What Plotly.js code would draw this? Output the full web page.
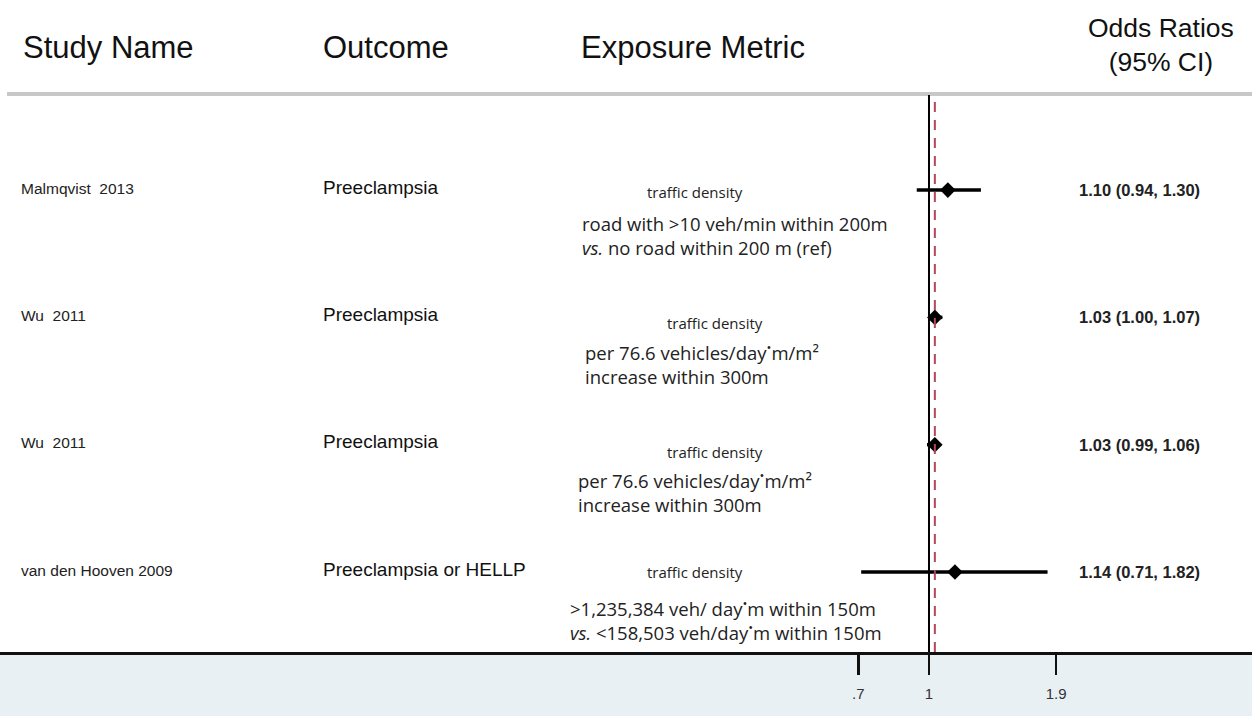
<!DOCTYPE html>
<html>
<head>
<meta charset="utf-8">
<script src="https://cdn.plot.ly/plotly-3.0.1.min.js"></script>
<style>html,body{margin:0;padding:0;background:#fff;}#chart{width:1252px;height:716px;}</style>
</head>
<body>
<div id="chart"></div>
<script>
// ---- data ----
const studyNames = ['Malmqvist  2013', 'Wu  2011', 'Wu  2011', 'van den Hooven 2009'];
const outcomes = ['Preeclampsia', 'Preeclampsia', 'Preeclampsia', 'Preeclampsia or HELLP'];
const exposureMetric = ['traffic density', 'traffic density', 'traffic density', 'traffic density'];
const exposureLine1 = ['road with >10 veh/min within 200m',
                       'per 76.6 vehicles/day<sup>•</sup>m/m²',
                       'per 76.6 vehicles/day<sup>•</sup>m/m²',
                       '>1,235,384 veh/ day<sup>•</sup>m within 150m'];
const exposureLine2 = ['<i>vs.</i> no road within 200 m (ref)',
                       'increase within 300m',
                       'increase within 300m',
                       '<i>vs.</i> <158,503 veh/day<sup>•</sup>m within 150m'];
const oddsRatio = [1.10, 1.03, 1.03, 1.14];
const ciLower = [0.94, 1.00, 0.99, 0.71];
const ciUpper = [1.30, 1.07, 1.06, 1.82];
const pooledOR = 1.03;
const tickValues = [0.7, 1, 1.9];
const tickLabels = ['.7', '1', '1.9'];
const headers = ['Study Name', 'Outcome', 'Exposure Metric', 'Odds Ratios<br>(95% CI)'];

// ---- layout helpers (pixel placement, not data) ----
const W = 1252, H = 716;
const metricX = [695, 715, 715, 695];        // centre x of "traffic density"
const metricShift = [-2, -6, -7, 0];          // px, + = up
const detailX = [580, 583, 576, 568];
const detailShift = [-45, -46, -47, -47];

const n = oddsRatio.length;
const yRow = oddsRatio.map((_, i) => n - i);
const orText = oddsRatio.map((v, i) => v.toFixed(2) + ' (' + ciLower[i].toFixed(2) + ', ' + ciUpper[i].toFixed(2) + ')');

const trace = {
  type: 'scatter', mode: 'markers',
  x: oddsRatio, y: yRow,
  marker: {symbol: 'diamond', size: 12, color: '#000'},
  error_x: {type: 'data', symmetric: false,
            array: oddsRatio.map((v, i) => ciUpper[i] - v),
            arrayminus: oddsRatio.map((v, i) => v - ciLower[i]),
            thickness: 3.5, width: 0, color: '#000'},
  hoverinfo: 'skip', showlegend: false
};

const px = v => v / W;
const sans = 'Liberation Sans, Arial, sans-serif';
const ann = [];
const hdrFont = {family: sans, size: 31, color: '#111'};
const hdrY = 1 + (95 - 47) / 557;
ann.push({xref: 'paper', yref: 'paper', x: px(21), y: hdrY, xanchor: 'left', yanchor: 'middle', text: headers[0], showarrow: false, font: hdrFont});
ann.push({xref: 'paper', yref: 'paper', x: px(321), y: hdrY, xanchor: 'left', yanchor: 'middle', text: headers[1], showarrow: false, font: hdrFont});
ann.push({xref: 'paper', yref: 'paper', x: px(579), y: hdrY, xanchor: 'left', yanchor: 'middle', text: headers[2], showarrow: false, font: hdrFont});
ann.push({xref: 'paper', yref: 'paper', x: px(1161), y: 1 + (95 - 45) / 557, xanchor: 'center', yanchor: 'middle', text: headers[3], showarrow: false,
          font: {family: sans, size: 26.5, color: '#111'}});

for (let i = 0; i < n; i++) {
  ann.push({xref: 'paper', yref: 'y', x: px(19), y: yRow[i], yshift: 2, xanchor: 'left', yanchor: 'middle',
            text: studyNames[i], showarrow: false, font: {family: sans, size: 15.5, color: '#222'}});
  ann.push({xref: 'paper', yref: 'y', x: px(321), y: yRow[i], yshift: 3, xanchor: 'left', yanchor: 'middle',
            text: outcomes[i], showarrow: false, font: {family: sans, size: 19, color: '#111'}});
  ann.push({xref: 'paper', yref: 'y', x: px(metricX[i]), y: yRow[i], yshift: metricShift[i], xanchor: 'center', yanchor: 'middle',
            text: exposureMetric[i], showarrow: false, font: {family: 'Open Sans, sans-serif', size: 15, color: '#222'}});
  ann.push({xref: 'paper', yref: 'y', x: px(detailX[i]), y: yRow[i], yshift: detailShift[i], xanchor: 'left', yanchor: 'middle', align: 'left',
            text: exposureLine1[i] + '<br>' + exposureLine2[i], showarrow: false, font: {family: 'Open Sans, sans-serif', size: 18.5, color: '#222'}});
  ann.push({xref: 'paper', yref: 'y', x: px(1077), y: yRow[i], yshift: 0, xanchor: 'left', yanchor: 'middle',
            text: '<b>' + orText[i] + '</b>', showarrow: false, font: {family: sans, size: 16.5, color: '#222'}});
}

const shapes = [
  // bottom band
  {type: 'rect', xref: 'paper', yref: 'paper', x0: 0, x1: 1, y0: -64 / 557, y1: 0, fillcolor: '#e9f0f3', line: {width: 0}, layer: 'below'},
  // header rule
  {type: 'line', xref: 'paper', yref: 'paper', x0: px(7), x1: 1, y0: 1 + 1 / 557, y1: 1 + 1 / 557, line: {color: '#c8c8c8', width: 4}},
  // null line
  {type: 'line', xref: 'x', yref: 'paper', x0: 1, x1: 1, y0: 0, y1: 1, line: {color: '#000', width: 2}},
  // pooled reference line
  {type: 'line', xref: 'x', yref: 'paper', x0: pooledOR, x1: pooledOR, y0: 0, y1: 1 - 5 / 557, line: {color: '#b3475a', width: 2, dash: '10px,8px'}}
];

const layout = {
  width: W, height: H,
  margin: {l: 0, r: 0, t: 95, b: 64, pad: 0},
  paper_bgcolor: 'rgba(0,0,0,0)', plot_bgcolor: 'rgba(0,0,0,0)',
  xaxis: {type: 'log', range: [-2.0377, 0.7085], tickvals: tickValues, ticktext: tickLabels,
          ticks: 'outside', ticklen: 20, tickwidth: 2.5, tickcolor: '#111',
          showline: true, linecolor: '#111', linewidth: 2.5, showgrid: false, zeroline: false,
          ticklabelstandoff: 6,
          tickfont: {family: sans, size: 15, color: '#333'}, fixedrange: true},
  yaxis: {range: [0.3716, 4.747], visible: false, showgrid: false, zeroline: false, fixedrange: true},
  annotations: ann, shapes: shapes, showlegend: false
};

Plotly.newPlot('chart', [trace], layout, {displayModeBar: false, staticPlot: true});
</script>
</body>
</html>
